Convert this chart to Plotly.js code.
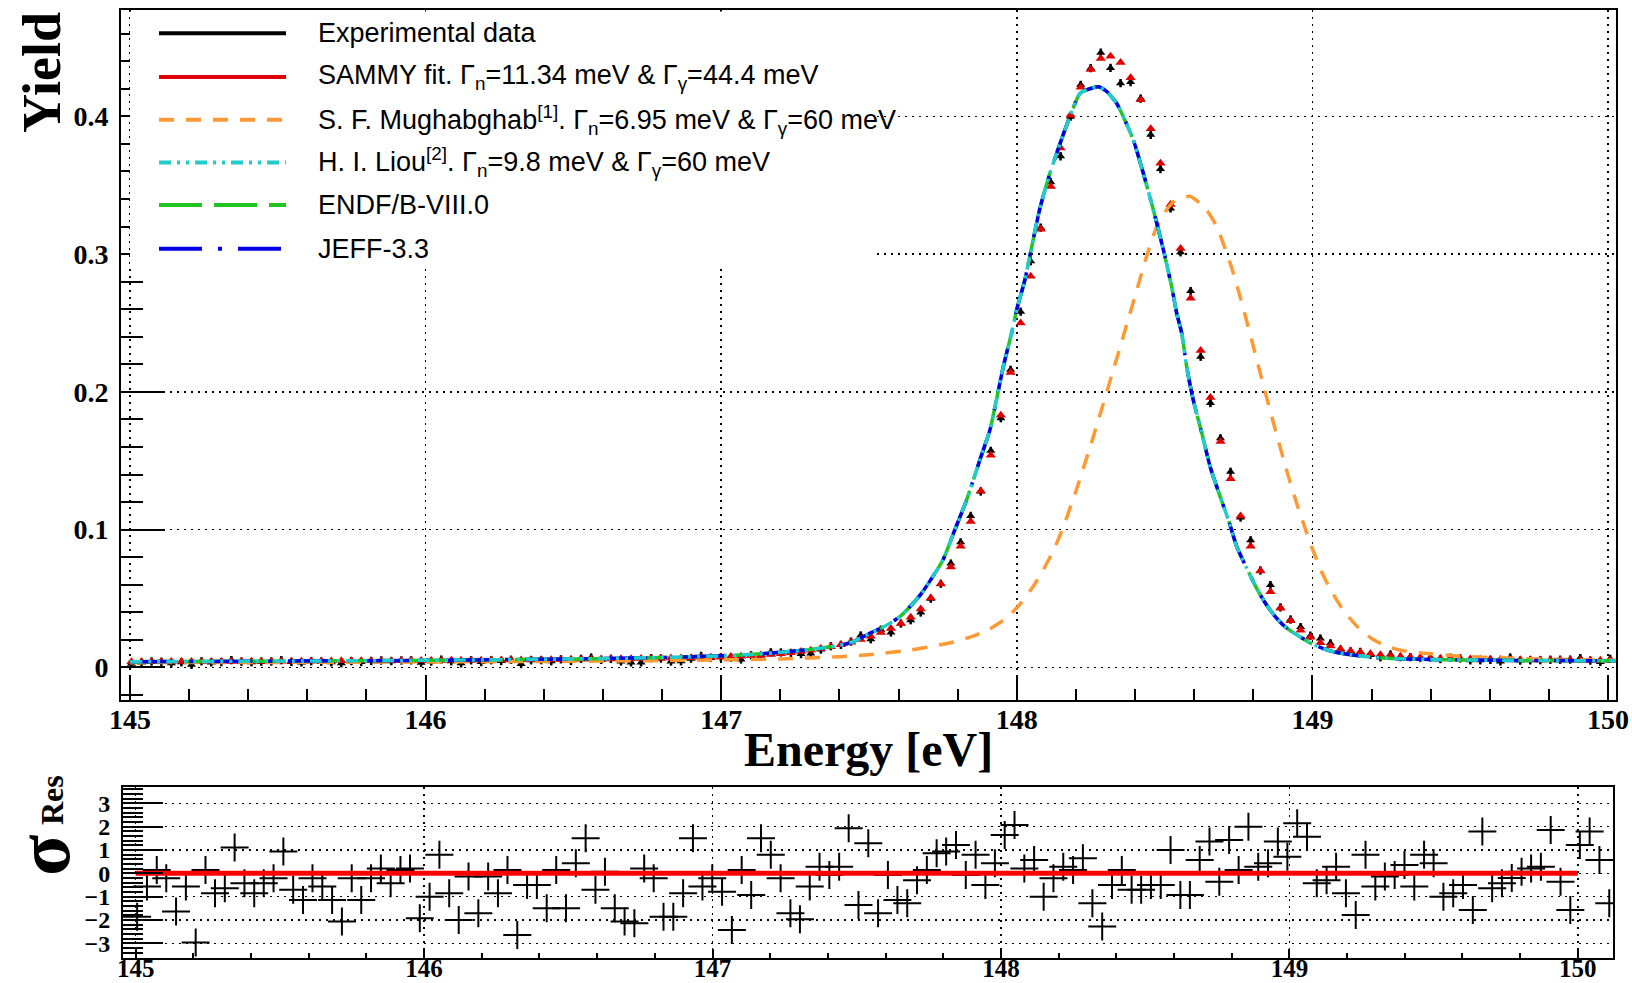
<!DOCTYPE html>
<html><head><meta charset="utf-8">
<script src="https://cdn.plot.ly/plotly-3.0.1.min.js"></script>
<style>html,body{margin:0;padding:0;background:#fff;} #chart{width:1632px;height:983px;}</style>
</head><body><div id="chart"></div>
<script>
// ---------- data ----------
const energy = [145.005,145.039,145.073,145.106,145.140,145.174,145.208,145.242,145.275,145.309,
145.343,145.377,145.411,145.444,145.478,145.512,145.546,145.580,145.613,145.647,
145.681,145.715,145.749,145.782,145.816,145.850,145.884,145.918,145.951,145.985,
146.019,146.053,146.087,146.120,146.154,146.188,146.222,146.256,146.289,146.323,
146.357,146.391,146.425,146.458,146.492,146.526,146.560,146.594,146.627,146.661,
146.695,146.729,146.763,146.796,146.830,146.864,146.898,146.932,146.965,146.999,
147.033,147.067,147.101,147.134,147.168,147.202,147.236,147.270,147.303,147.337,
147.371,147.405,147.439,147.472,147.506,147.540,147.574,147.608,147.641,147.675,
147.709,147.743,147.777,147.810,147.844,147.878,147.912,147.946,147.979,148.013,
148.047,148.081,148.115,148.148,148.182,148.216,148.250,148.284,148.317,148.351,
148.385,148.419,148.453,148.486,148.520,148.554,148.588,148.622,148.655,148.689,
148.723,148.757,148.791,148.824,148.858,148.892,148.926,148.960,148.993,149.027,
149.061,149.095,149.129,149.162,149.196,149.230,149.264,149.298,149.331,149.365,
149.399,149.433,149.467,149.500,149.534,149.568,149.602,149.636,149.669,149.703,
149.737,149.771,149.805,149.838,149.872,149.906,149.940,149.974,150.007,150.041,
150.075,150.109];

const yieldExp = [0.0027,0.0037,0.0043,0.0041,0.0030,0.0038,0.0019,0.0045,0.0037,0.0039,
0.0053,0.0042,0.0038,0.0042,0.0043,0.0053,0.0040,0.0037,0.0045,0.0042,
0.0038,0.0031,0.0046,0.0039,0.0047,0.0051,0.0046,0.0051,0.0052,0.0035,
0.0043,0.0057,0.0045,0.0030,0.0052,0.0039,0.0053,0.0047,0.0056,0.0025,
0.0052,0.0053,0.0045,0.0059,0.0047,0.0063,0.0072,0.0055,0.0063,0.0044,
0.0037,0.0037,0.0068,0.0065,0.0044,0.0045,0.0064,0.0084,0.0069,0.0074,
0.0071,0.0058,0.0088,0.0081,0.0110,0.0109,0.0105,0.0097,0.0101,0.0130,
0.0154,0.0164,0.0188,0.0232,0.0205,0.0274,0.0254,0.0319,0.0343,0.0399,
0.0499,0.0608,0.0754,0.0908,0.1100,0.1277,0.1572,0.1809,0.2160,0.2582,
0.2948,0.3192,0.3522,0.3710,0.3997,0.4228,0.4349,0.4462,0.4351,0.4240,
0.4248,0.4129,0.3866,0.3617,0.3331,0.3013,0.2732,0.2255,0.1919,0.1663,
0.1420,0.1088,0.0923,0.0704,0.0598,0.0436,0.0348,0.0293,0.0231,0.0210,
0.0175,0.0130,0.0117,0.0113,0.0091,0.0074,0.0094,0.0075,0.0075,0.0071,
0.0072,0.0061,0.0071,0.0066,0.0052,0.0052,0.0055,0.0044,0.0073,0.0050,
0.0052,0.0053,0.0056,0.0056,0.0057,0.0068,0.0050,0.0040,0.0063,0.0068,
0.0057,0.0040];

const yieldErr = 0.003;

const yieldSammy = [0.0042,0.0042,0.0042,0.0043,0.0043,0.0043,0.0043,0.0044,0.0044,0.0044,
0.0044,0.0045,0.0045,0.0045,0.0045,0.0046,0.0046,0.0046,0.0047,0.0047,
0.0047,0.0048,0.0048,0.0048,0.0049,0.0049,0.0049,0.0050,0.0050,0.0050,
0.0051,0.0051,0.0052,0.0052,0.0053,0.0053,0.0054,0.0054,0.0055,0.0055,
0.0056,0.0057,0.0057,0.0058,0.0059,0.0060,0.0060,0.0061,0.0062,0.0063,
0.0064,0.0065,0.0066,0.0067,0.0068,0.0069,0.0071,0.0072,0.0074,0.0076,
0.0079,0.0082,0.0086,0.0090,0.0095,0.0100,0.0107,0.0116,0.0125,0.0137,
0.0150,0.0165,0.0183,0.0203,0.0226,0.0253,0.0283,0.0320,0.0365,0.0425,
0.0505,0.0605,0.0730,0.0880,0.1060,0.1280,0.1540,0.1830,0.2140,0.2500,
0.2840,0.3180,0.3490,0.3770,0.4010,0.4210,0.4340,0.4420,0.4435,0.4390,
0.4280,0.4120,0.3910,0.3660,0.3360,0.3040,0.2680,0.2300,0.1960,0.1640,
0.1370,0.1100,0.0880,0.0700,0.0550,0.0430,0.0340,0.0270,0.0220,0.0180,
0.0155,0.0135,0.0120,0.0110,0.0100,0.0092,0.0086,0.0080,0.0076,0.0072,
0.0069,0.0066,0.0064,0.0062,0.0061,0.0060,0.0059,0.0058,0.0057,0.0056,
0.0056,0.0055,0.0055,0.0054,0.0054,0.0053,0.0053,0.0053,0.0052,0.0052,
0.0052,0.0051];

const residual = [-1.86,-0.57,0.14,-0.21,-1.64,-0.57,-2.97,0.14,-0.86,-0.64,
1.11,-0.43,-0.86,-0.43,-0.21,0.93,-0.71,-1.14,-0.21,-0.57,
-1.14,-2.07,-0.21,-1.14,-0.21,0.21,-0.43,0.14,0.21,-1.93,
-1.0,0.79,-0.86,-2.0,-0.14,-1.71,-0.14,-0.86,0.14,-2.64,
-0.5,-0.5,-1.5,0.14,-1.5,0.43,1.5,-0.71,0.07,-1.5,
-2.07,-2.14,0.21,-0.21,-1.86,-1.86,-0.86,1.5,-0.57,-0.21,
-0.79,-2.43,0.14,-0.93,1.5,0.79,-0.21,-1.71,-1.97,-0.57,
0.28,-0.07,0.28,1.93,-1.36,1.29,-1.71,-0.07,-1.14,-1.28,
-0.3,0.14,0.86,0.93,1.21,-0.07,0.79,-0.5,0.43,1.64,
2.07,0.21,0.57,-1.0,-0.21,0.28,0.14,0.64,-1.28,-2.28,
-0.5,0.14,-0.71,-0.71,-0.5,-0.5,1.0,-0.93,-0.93,0.57,
1.36,-0.36,1.43,0.14,2.0,0.28,0.43,1.36,0.71,2.14,
1.57,-0.43,-0.3,0.28,-0.86,-1.79,0.79,-0.57,-0.14,-0.07,
0.36,-0.57,0.79,0.43,-1.0,-0.86,-0.5,-1.57,1.79,-0.64,
-0.43,-0.2,0.07,0.21,0.28,1.86,-0.36,-1.57,1.21,1.79,
0.57,-1.28];

// Evaluated curves (H. I. Liou, ENDF/B-VIII.0 and JEFF-3.3 coincide)
const libEnergy = [145.0,145.5,146.0,146.5,146.8,147.0,147.1,147.2,147.3,147.4,147.45,147.5,147.55,147.605,
147.673,147.75,147.785,147.83,147.875,147.909,147.931,147.954,147.982,148.0,148.027,148.055,148.078,
148.112,148.146,148.18,148.214,148.247,148.276,148.304,148.338,148.366,148.394,148.428,148.462,148.496,
148.524,148.541,148.558,148.575,148.597,148.626,148.654,148.688,148.716,148.744,148.778,148.81,148.84,
148.87,148.9,148.93,148.96,149.0,149.06,149.13,149.24,149.4,149.6,149.8,150.03];
const libYield = [0.0042,0.0046,0.0052,0.0062,0.0072,0.0085,0.0095,0.0110,0.0130,0.0160,0.0190,0.0245,0.0295,0.0370,
0.0525,0.0780,0.0970,0.1215,0.1506,0.1724,0.1940,0.2180,0.2425,0.2600,0.2810,0.3100,0.3330,
0.3586,0.3800,0.4000,0.4167,0.4200,0.4215,0.4180,0.4094,0.3970,0.3830,0.3586,0.3320,0.3030,
0.2763,0.2570,0.2425,0.2177,0.1940,0.1700,0.1457,0.1240,0.1070,0.0877,0.0720,0.0580,0.0470,
0.0380,0.0310,0.0260,0.0220,0.0170,0.0120,0.0092,0.0068,0.0058,0.0053,0.0050,0.0048];

// S. F. Mughabghab parameters
const mughEnergy = [145.0,145.5,146.0,146.5,147.0,147.2,147.4,147.5,147.639,147.718,147.786,147.842,147.904,147.966,
148.011,148.056,148.09,148.124,148.152,148.197,148.248,148.281,148.321,148.349,148.372,148.406,148.44,148.47,
148.5,148.53,148.586,148.642,148.676,148.698,148.727,148.749,148.772,148.794,148.823,148.845,148.879,148.901,
148.925,148.947,148.98,149.0,149.03,149.06,149.1,149.15,149.2,149.25,149.3,149.37,149.5,149.7,150.03];
const mughYield = [0.0035,0.0037,0.0040,0.0045,0.0055,0.0062,0.0078,0.0092,0.0127,0.0155,0.0185,0.0220,0.0275,0.0360,
0.0460,0.0590,0.0710,0.0850,0.0990,0.1260,0.1600,0.1830,0.2120,0.2320,0.2490,0.2740,0.2990,0.3180,
0.3300,0.3380,0.3420,0.3320,0.3200,0.3080,0.2900,0.2740,0.2560,0.2380,0.2140,0.1960,0.1690,0.1520,
0.1340,0.1190,0.0980,0.0860,0.0700,0.0570,0.0430,0.0300,0.0210,0.0155,0.0125,0.0105,0.0082,0.0065,0.0052];

const zeroLineE = [145, 150];
const zeroLineR = [0, 0];

const legendLabels = [
  'Experimental data',
  'SAMMY fit. \u0393<sub>n</sub>=11.34 meV &amp; \u0393<sub>\u03b3</sub>=44.4 meV',
  'S. F. Mughabghab<sup>[1]</sup>. \u0393<sub>n</sub>=6.95 meV &amp; \u0393<sub>\u03b3</sub>=60 meV',
  'H. I. Liou<sup>[2]</sup>. \u0393<sub>n</sub>=9.8 meV &amp; \u0393<sub>\u03b3</sub>=60 meV',
  'ENDF/B-VIII.0',
  'JEFF-3.3'
];

// ---------- styling ----------
const W = 1632, H = 983;
const px = v => v / W;
const py = v => 1 - v / H;
const serif = 'Liberation Serif, Times New Roman, serif';
const sans = 'Liberation Sans, Arial, sans-serif';
const C = {exp:'#000000', sammy:'#e00000', mugh:'#ff9933', liou:'#22cccc', endf:'#22c322', jeff:'#0000e6'};
const D = {mugh:'15px,12px', liou:'12px,6px,3px,6px,3px,6px', endf:'43px,12px', jeff:'43px,16px,4px,16px'};
const grid = {showgrid:true, gridcolor:'#000', gridwidth:1.5, griddash:'2px,5px'};
const axBase = {showline:true, linewidth:2, linecolor:'#000', mirror:true, zeroline:false,
  ticks:'inside', tickwidth:2, tickcolor:'#000'};

const traces = [
  {x:energy, y:yieldExp, type:'scatter', mode:'markers', xaxis:'x', yaxis:'y',
   marker:{symbol:'triangle-up', size:8, color:C.exp},
   error_y:{type:'constant', value:yieldErr, color:C.exp, thickness:2.5, width:0}},
  {x:energy, y:yieldSammy, type:'scatter', mode:'markers', xaxis:'x', yaxis:'y',
   marker:{symbol:'triangle-up', size:9, color:C.sammy}},
  {x:mughEnergy, y:mughYield, type:'scatter', mode:'lines', xaxis:'x', yaxis:'y',
   line:{color:C.mugh, width:3.5, dash:D.mugh, shape:'spline', smoothing:0.6}},
  {x:libEnergy, y:libYield, type:'scatter', mode:'lines', xaxis:'x', yaxis:'y',
   line:{color:C.endf, width:3.5, dash:D.endf, shape:'spline', smoothing:0.6}},
  {x:libEnergy, y:libYield, type:'scatter', mode:'lines', xaxis:'x', yaxis:'y',
   line:{color:C.jeff, width:3.5, dash:D.jeff, shape:'spline', smoothing:0.6}},
  {x:libEnergy, y:libYield, type:'scatter', mode:'lines', xaxis:'x', yaxis:'y',
   line:{color:C.liou, width:3.5, dash:D.liou, shape:'spline', smoothing:0.6}},
  {x:energy, y:residual, type:'scatter', mode:'markers', xaxis:'x2', yaxis:'y2',
   marker:{symbol:'cross-thin-open', size:20, color:'#000', line:{width:2, color:'#000'}}},
  {x:zeroLineE, y:zeroLineR, type:'scatter', mode:'lines', xaxis:'x2', yaxis:'y2',
   line:{color:'#ff0000', width:5}}
];

const legendRows = [33.3, 77, 119.7, 162.4, 205, 248.7];
const legendStyle = [
  {color:C.exp, dash:'solid'}, {color:C.sammy, dash:'solid'}, {color:C.mugh, dash:D.mugh},
  {color:C.liou, dash:D.liou}, {color:C.endf, dash:D.endf}, {color:C.jeff, dash:D.jeff}
];

const shapes = [
  {type:'rect', xref:'x', yref:'y', x0:145.0, x1:147.525, y0:0.2906, y1:0.476,
   fillcolor:'#ffffff', line:{width:0}, layer:'above'}
];
legendRows.forEach((r, i) => shapes.push({type:'line', xref:'paper', yref:'paper',
  x0:px(159), x1:px(286), y0:py(r), y1:py(r), layer:'above',
  line:{color:legendStyle[i].color, width:4, dash:legendStyle[i].dash}}));

const annotations = legendLabels.map((t, i) => ({text:t, xref:'paper', yref:'paper',
  x:px(316), y:py(legendRows[i]), xanchor:'left', yanchor:'middle', showarrow:false,
  font:{family:sans, size:27, color:'#000'}}));
annotations.push(
  {text:'Yield', xref:'paper', yref:'paper', x:px(42), y:py(73), textangle:-90, showarrow:false,
   xanchor:'center', yanchor:'middle', font:{family:serif, size:54, color:'#000', weight:'bold'}},
  {text:'Energy [eV]', xref:'paper', yref:'paper', x:px(868), y:py(749), showarrow:false,
   xanchor:'center', yanchor:'middle', font:{family:serif, size:48, color:'#000', weight:'bold'}},
  {text:'\u03c3', xref:'paper', yref:'paper', x:px(43), y:py(856), textangle:-90, showarrow:false,
   xanchor:'center', yanchor:'middle', font:{family:serif, size:76, color:'#000', weight:'bold'}},
  {text:'Res', xref:'paper', yref:'paper', x:px(52), y:py(800), textangle:-90, showarrow:false,
   xanchor:'center', yanchor:'middle', font:{family:serif, size:32, color:'#000', weight:'bold'}}
);

const layout = {
  width:W, height:H, margin:{l:0, r:0, t:0, b:0},
  paper_bgcolor:'#ffffff', plot_bgcolor:'rgba(0,0,0,0)', showlegend:false,
  xaxis:Object.assign({}, axBase, grid, {
    domain:[px(121), px(1616)], range:[144.9696, 150.027], anchor:'y',
    tick0:145, dtick:1, ticklen:25, ticklabelstandoff:-7,
    tickfont:{family:serif, size:28, color:'#000', weight:'bold'},
    minor:{tick0:145, dtick:0.2, ticks:'inside', ticklen:11, tickwidth:2, tickcolor:'#000', showgrid:false}}),
  yaxis:Object.assign({}, axBase, grid, {
    domain:[py(700), py(9.5)], range:[-0.0236, 0.4775], anchor:'x',
    tick0:0, dtick:0.1, ticklen:44, ticklabelstandoff:5,
    tickfont:{family:serif, size:28, color:'#000', weight:'bold'},
    minor:{tick0:0, dtick:0.02, ticks:'inside', ticklen:22, tickwidth:2, tickcolor:'#000', showgrid:false}}),
  xaxis2:Object.assign({}, axBase, grid, {
    domain:[px(123), px(1613)], range:[144.956, 150.122], anchor:'y2',
    tick0:145, dtick:1, ticklen:9, ticklabelstandoff:-13,
    tickfont:{family:serif, size:25, color:'#000', weight:'bold'},
    minor:{tick0:145, dtick:0.2, ticks:'inside', ticklen:5, tickwidth:2, tickcolor:'#000', showgrid:false}}),
  yaxis2:Object.assign({}, axBase, grid, {
    domain:[py(958.3), py(787.3)], range:[-3.643, 3.686], anchor:'x2',
    tick0:0, dtick:1, ticklen:40, ticklabelstandoff:6,
    tickfont:{family:serif, size:24, color:'#000', weight:'bold'},
    minor:{tick0:0, dtick:0.2, ticks:'inside', ticklen:20, tickwidth:2, tickcolor:'#000', showgrid:false}}),
  shapes:shapes,
  annotations:annotations
};

Plotly.newPlot('chart', traces, layout, {displayModeBar:false, staticPlot:true});
</script>
</body></html>
